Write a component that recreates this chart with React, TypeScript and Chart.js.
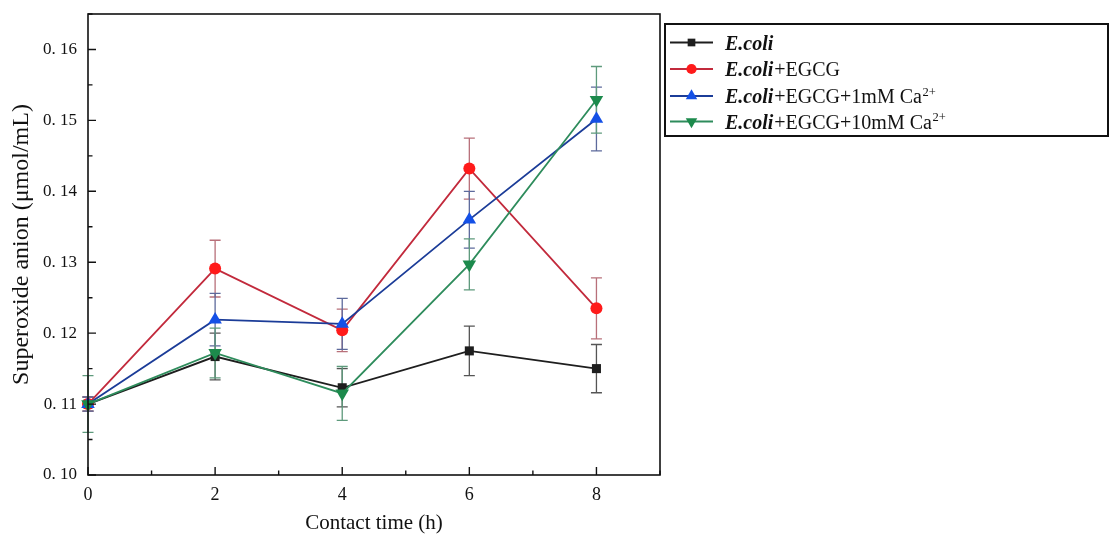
import React, { useEffect, useRef } from "react";
import { Chart, registerables } from "chart.js";

Chart.register(...registerables);

// ---- data ----
const contactTimes = [0, 2, 4, 6, 8];
const seriesLabels = [
  "E.coli",
  "E.coli+EGCG",
  "E.coli+EGCG+1mM Ca2+",
  "E.coli+EGCG+10mM Ca2+",
];
const ecoliValues = [0.11, 0.1167, 0.1123, 0.1175, 0.115];
const ecoliErrors = [0.001, 0.0033, 0.0027, 0.0035, 0.0034];
const egcgValues = [0.11, 0.1291, 0.1204, 0.1432, 0.1235];
const egcgErrors = [0.001, 0.004, 0.003, 0.0043, 0.0043];
const ca1Values = [0.11, 0.1219, 0.1213, 0.136, 0.1502];
const ca1Errors = [0.001, 0.0037, 0.0036, 0.004, 0.0045];
const ca10Values = [0.11, 0.1172, 0.1115, 0.1297, 0.1529];
const ca10Errors = [0.004, 0.0035, 0.0038, 0.0036, 0.0047];
const xTickLabels = ["0", "2", "4", "6", "8"];
const yTickLabels = ["0. 10", "0. 11", "0. 12", "0. 13", "0. 14", "0. 15", "0. 16"];
const xAxisTitle = "Contact time (h)";
const yAxisTitle = "Superoxide anion (\u03bcmol/mL)";

const allValues = [ecoliValues, egcgValues, ca1Values, ca10Values];
const allErrors = [ecoliErrors, egcgErrors, ca1Errors, ca10Errors];

// ---- styles ----
const SERIF = "'Liberation Serif', 'Times New Roman', serif";
const seriesStyles = [
  { line: "#1e1e1e", fill: "#1e1e1e", err: "#555555", shape: "rect", r: 6.4, rot: 0, order: 4 },
  { line: "#c22a3c", fill: "#ff1a1a", err: "#b8707a", shape: "circle", r: 6, rot: 0, order: 3 },
  { line: "#1b3c98", fill: "#1450e6", err: "#5d6a9c", shape: "triangle", r: 7.8, rot: 0, order: 2 },
  { line: "#2e8c5c", fill: "#1c8a4c", err: "#5e9a7c", shape: "triangle", r: 7.8, rot: 180, order: 1 },
];

const errorBarPlugin = {
  id: "errorBars",
  beforeDatasetsDraw(chart: any) {
    const ctx = chart.ctx;
    const xs = chart.scales.x;
    const ys = chart.scales.y;
    chart.data.datasets.forEach((ds: any) => {
      const errs: number[] = ds.errors;
      ctx.save();
      ctx.strokeStyle = ds.errorColor;
      ctx.lineWidth = 1.3;
      ds.data.forEach((p: any, i: number) => {
        const x = xs.getPixelForValue(p.x);
        const y1 = ys.getPixelForValue(p.y + errs[i]);
        const y2 = ys.getPixelForValue(p.y - errs[i]);
        ctx.beginPath();
        ctx.moveTo(x, y1);
        ctx.lineTo(x, y2);
        ctx.moveTo(x - 5.5, y1);
        ctx.lineTo(x + 5.5, y1);
        ctx.moveTo(x - 5.5, y2);
        ctx.lineTo(x + 5.5, y2);
        ctx.stroke();
      });
      ctx.restore();
    });
  },
};

const framePlugin = {
  id: "frameTicks",
  afterDatasetsDraw(chart: any) {
    const ctx = chart.ctx;
    const { left, right, top, bottom } = chart.chartArea;
    const xs = chart.scales.x;
    const ys = chart.scales.y;
    ctx.save();
    ctx.strokeStyle = "#111";
    ctx.lineWidth = 1.6;
    ctx.strokeRect(left, top, right - left, bottom - top);
    ctx.lineWidth = 1.4;
    ctx.beginPath();
    xs.ticks.forEach((t: any) => {
      const x = xs.getPixelForValue(t.value);
      const major = t.value % 2 === 0;
      ctx.moveTo(x, bottom);
      ctx.lineTo(x, bottom - (major ? 8 : 4.5));
    });
    ys.ticks.forEach((t: any) => {
      const y = ys.getPixelForValue(t.value);
      const major = Math.round(t.value * 1000) % 10 === 0;
      ctx.moveTo(left, y);
      ctx.lineTo(left + (major ? 8 : 4.5), y);
    });
    ctx.stroke();
    ctx.restore();
  },
};

function drawMarker(ctx: CanvasRenderingContext2D, st: any, x: number, y: number) {
  ctx.fillStyle = st.fill;
  ctx.beginPath();
  if (st.shape === "rect") {
    const s = Math.SQRT1_2 * st.r;
    ctx.rect(x - s, y - s, 2 * s, 2 * s);
  } else if (st.shape === "circle") {
    ctx.arc(x, y, st.r, 0, Math.PI * 2);
  } else {
    let rad = (st.rot * Math.PI) / 180;
    for (let k = 0; k < 3; k++) {
      const px = x + Math.sin(rad) * st.r;
      const py = y - Math.cos(rad) * st.r;
      if (k === 0) ctx.moveTo(px, py);
      else ctx.lineTo(px, py);
      rad += (2 * Math.PI) / 3;
    }
    ctx.closePath();
  }
  ctx.fill();
}

const legendPlugin = {
  id: "customLegend",
  afterDraw(chart: any) {
    const ctx: CanvasRenderingContext2D = chart.ctx;
    const bx = 665, by = 24, bw = 443, bh = 112;
    ctx.save();
    ctx.fillStyle = "#fff";
    ctx.fillRect(bx, by, bw, bh);
    ctx.strokeStyle = "#111";
    ctx.lineWidth = 2;
    ctx.strokeRect(bx, by, bw, bh);
    const rowY = [42.5, 69, 96, 121.5];
    seriesLabels.forEach((label, i) => {
      const st = seriesStyles[i];
      const y = rowY[i];
      ctx.strokeStyle = st.line;
      ctx.lineWidth = 1.8;
      ctx.beginPath();
      ctx.moveTo(670, y);
      ctx.lineTo(713, y);
      ctx.stroke();
      drawMarker(ctx, { ...st, r: st.r * 0.85 }, 691.5, y);
      let x = 725;
      ctx.fillStyle = "#111";
      ctx.textBaseline = "alphabetic";
      const base = y + 7;
      const italic = "E.coli";
      let rest = label.slice(italic.length);
      let sup = "";
      if (rest.endsWith("2+")) {
        sup = "2+";
        rest = rest.slice(0, -2);
      }
      ctx.font = `italic bold 20px ${SERIF}`;
      ctx.fillText(italic, x, base);
      x += ctx.measureText(italic).width + 1;
      ctx.font = `20px ${SERIF}`;
      ctx.fillText(rest, x, base);
      x += ctx.measureText(rest).width;
      if (sup) {
        ctx.font = `12.5px ${SERIF}`;
        ctx.fillText(sup, x + 0.5, base - 7.5);
      }
    });
    ctx.restore();
  },
};

export default function App() {
  const canvasRef = useRef<HTMLCanvasElement | null>(null);

  useEffect(() => {
    if (!canvasRef.current) return;
    const datasets = seriesLabels.map((label, i) => {
      const st = seriesStyles[i];
      return {
        label,
        data: contactTimes.map((t, j) => ({ x: t, y: allValues[i][j] })),
        errors: allErrors[i],
        errorColor: st.err,
        borderColor: st.line,
        backgroundColor: st.fill,
        pointBackgroundColor: st.fill,
        pointBorderColor: st.fill,
        pointBorderWidth: 0,
        pointStyle: st.shape,
        pointRotation: st.rot,
        pointRadius: st.r,
        borderWidth: 1.8,
        tension: 0,
        order: st.order,
        clip: false,
      } as any;
    });

    const chart = new Chart(canvasRef.current, {
      type: "line",
      data: { datasets },
      plugins: [errorBarPlugin, framePlugin, legendPlugin],
      options: {
        animation: false,
        responsive: false,
        maintainAspectRatio: false,
        layout: { padding: { left: 0, right: 453, top: 14, bottom: 0 } },
        plugins: {
          legend: { display: false },
          tooltip: { enabled: false },
        },
        scales: {
          x: {
            type: "linear",
            min: 0,
            max: 9,
            grid: { display: false, drawTicks: false },
            border: { display: false },
            ticks: {
              stepSize: 1,
              autoSkip: false,
              maxRotation: 0,
              padding: 9,
              color: "#111",
              font: { family: SERIF, size: 18 },
              callback: (v: any) => {
                const idx = contactTimes.indexOf(Number(v));
                return idx >= 0 ? xTickLabels[idx] : "";
              },
            },
            title: {
              display: true,
              text: xAxisTitle,
              color: "#111",
              font: { family: SERIF, size: 21 },
              padding: { top: 0, bottom: 2 },
            },
            afterFit: (s: any) => {
              s.height = 63;
              s.paddingLeft = 0;
              s.paddingRight = 0;
            },
          },
          y: {
            type: "linear",
            min: 0.1,
            max: 0.165,
            grid: { display: false, drawTicks: false },
            border: { display: false },
            ticks: {
              stepSize: 0.005,
              autoSkip: false,
              padding: 11,
              color: "#111",
              font: { family: SERIF, size: 17 },
              callback: (v: any) => {
                const k = Math.round(Number(v) * 1000);
                if (k % 10 !== 0) return "";
                const idx = (k - 100) / 10;
                return yTickLabels[idx] ?? "";
              },
            },
            title: {
              display: true,
              text: yAxisTitle,
              color: "#111",
              font: { family: SERIF, size: 24 },
              padding: { top: 7, bottom: 0 },
            },
            afterFit: (s: any) => {
              s.width = 88;
              s.paddingTop = 0;
              s.paddingBottom = 0;
            },
          },
        },
      } as any,
    });
    return () => chart.destroy();
  }, []);

  return (
    <div style={{ position: "fixed", left: 0, top: 0, width: 1113, height: 538, background: "#fff" }}>
      <canvas ref={canvasRef} width={1113} height={538} style={{ display: "block", width: 1113, height: 538 }} />
    </div>
  );
}
